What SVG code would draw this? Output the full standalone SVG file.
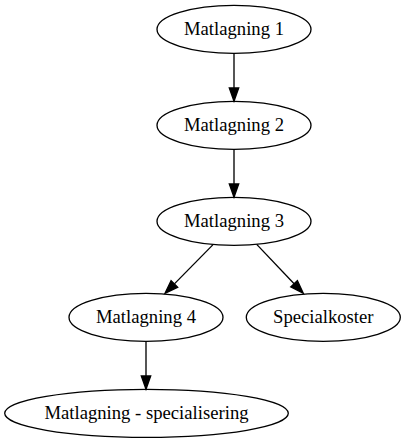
<svg xmlns="http://www.w3.org/2000/svg" width="405" height="443" viewBox="0 0 405 443">
<style>
.node ellipse{fill:none;stroke:#000;stroke-width:1.33}
.node text{font-family:"Liberation Serif","Times New Roman",serif;font-size:18.67px;text-anchor:middle;fill:#000}
.edge line{stroke:#000;stroke-width:1.33}
.edge polygon{fill:#000;stroke:#000;stroke-width:1.33}
</style>
<rect width="405" height="443" fill="#fff"/>
<g id="edges" class="edge">
<line x1="234" y1="53.3" x2="234" y2="88"/>
<polygon points="229.3,88 238.7,88 234,101.3"/>
<line x1="234" y1="149.3" x2="234" y2="184"/>
<polygon points="229.3,184 238.7,184 234,197.3"/>
<line x1="213.3" y1="244.4" x2="174.4" y2="283.9"/>
<polygon points="171.1,280.6 177.7,287.2 165,293.3"/>
<line x1="256.7" y1="244.4" x2="294.1" y2="283.7"/>
<polygon points="290.7,286.9 297.4,280.5 303.3,293.3"/>
<line x1="146" y1="341.3" x2="146" y2="376"/>
<polygon points="141.3,376 150.7,376 146,389.3"/>
</g>
<g id="n1" class="node"><ellipse cx="234" cy="29.33" rx="77" ry="24"/><text x="234" y="34.9">Matlagning 1</text></g>
<g id="n2" class="node"><ellipse cx="234" cy="125.33" rx="77" ry="24"/><text x="234" y="130.9">Matlagning 2</text></g>
<g id="n3" class="node"><ellipse cx="234" cy="221.33" rx="77" ry="24"/><text x="234" y="226.9">Matlagning 3</text></g>
<g id="n4" class="node"><ellipse cx="146" cy="317.33" rx="77" ry="24"/><text x="146" y="322.9">Matlagning 4</text></g>
<g id="n5" class="node"><ellipse cx="323.3" cy="317.33" rx="77" ry="24"/><text x="323.3" y="322.9">Specialkoster</text></g>
<g id="n6" class="node"><ellipse cx="146.5" cy="413.33" rx="141.8" ry="24"/><text x="146.5" y="418.9">Matlagning - specialisering</text></g>
</svg>
